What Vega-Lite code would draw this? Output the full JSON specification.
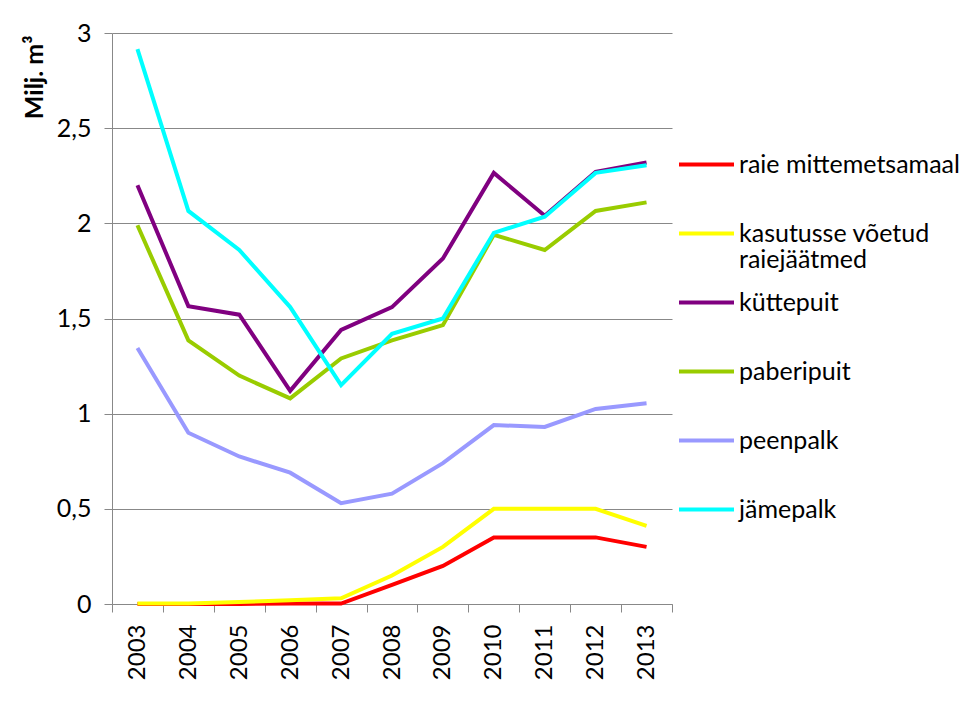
{
  "$schema": "https://vega.github.io/schema/vega-lite/v6.json",
  "width": 560,
  "height": 571,
  "autosize": {"type": "none"},
  "padding": {"left": 112, "top": 33, "right": 305, "bottom": 114},
  "background": "white",
  "config": {"font": "Lato", "view": {"stroke": null}},
  "data": {
    "values": [
      {"year": "2003", "series": "raie mittemetsamaal", "value": 0},
      {"year": "2004", "series": "raie mittemetsamaal", "value": 0},
      {"year": "2005", "series": "raie mittemetsamaal", "value": 0},
      {"year": "2006", "series": "raie mittemetsamaal", "value": 0.003},
      {"year": "2007", "series": "raie mittemetsamaal", "value": 0.002},
      {"year": "2008", "series": "raie mittemetsamaal", "value": 0.1},
      {"year": "2009", "series": "raie mittemetsamaal", "value": 0.2},
      {"year": "2010", "series": "raie mittemetsamaal", "value": 0.35},
      {"year": "2011", "series": "raie mittemetsamaal", "value": 0.35},
      {"year": "2012", "series": "raie mittemetsamaal", "value": 0.35},
      {"year": "2013", "series": "raie mittemetsamaal", "value": 0.3},
      {"year": "2003", "series": "kasutusse võetud raiejäätmed", "value": 0.003},
      {"year": "2004", "series": "kasutusse võetud raiejäätmed", "value": 0.003},
      {"year": "2005", "series": "kasutusse võetud raiejäätmed", "value": 0.01},
      {"year": "2006", "series": "kasutusse võetud raiejäätmed", "value": 0.02},
      {"year": "2007", "series": "kasutusse võetud raiejäätmed", "value": 0.03},
      {"year": "2008", "series": "kasutusse võetud raiejäätmed", "value": 0.15},
      {"year": "2009", "series": "kasutusse võetud raiejäätmed", "value": 0.3},
      {"year": "2010", "series": "kasutusse võetud raiejäätmed", "value": 0.5},
      {"year": "2011", "series": "kasutusse võetud raiejäätmed", "value": 0.5},
      {"year": "2012", "series": "kasutusse võetud raiejäätmed", "value": 0.5},
      {"year": "2013", "series": "kasutusse võetud raiejäätmed", "value": 0.41},
      {"year": "2003", "series": "küttepuit", "value": 2.2},
      {"year": "2004", "series": "küttepuit", "value": 1.565},
      {"year": "2005", "series": "küttepuit", "value": 1.52},
      {"year": "2006", "series": "küttepuit", "value": 1.12},
      {"year": "2007", "series": "küttepuit", "value": 1.44},
      {"year": "2008", "series": "küttepuit", "value": 1.56},
      {"year": "2009", "series": "küttepuit", "value": 1.815},
      {"year": "2010", "series": "küttepuit", "value": 2.265},
      {"year": "2011", "series": "küttepuit", "value": 2.04},
      {"year": "2012", "series": "küttepuit", "value": 2.27},
      {"year": "2013", "series": "küttepuit", "value": 2.32},
      {"year": "2003", "series": "paberipuit", "value": 1.99},
      {"year": "2004", "series": "paberipuit", "value": 1.385},
      {"year": "2005", "series": "paberipuit", "value": 1.2},
      {"year": "2006", "series": "paberipuit", "value": 1.08},
      {"year": "2007", "series": "paberipuit", "value": 1.29},
      {"year": "2008", "series": "paberipuit", "value": 1.385},
      {"year": "2009", "series": "paberipuit", "value": 1.465},
      {"year": "2010", "series": "paberipuit", "value": 1.94},
      {"year": "2011", "series": "paberipuit", "value": 1.86},
      {"year": "2012", "series": "paberipuit", "value": 2.065},
      {"year": "2013", "series": "paberipuit", "value": 2.11},
      {"year": "2003", "series": "peenpalk", "value": 1.345},
      {"year": "2004", "series": "peenpalk", "value": 0.9},
      {"year": "2005", "series": "peenpalk", "value": 0.775},
      {"year": "2006", "series": "peenpalk", "value": 0.69},
      {"year": "2007", "series": "peenpalk", "value": 0.53},
      {"year": "2008", "series": "peenpalk", "value": 0.58},
      {"year": "2009", "series": "peenpalk", "value": 0.74},
      {"year": "2010", "series": "peenpalk", "value": 0.94},
      {"year": "2011", "series": "peenpalk", "value": 0.93},
      {"year": "2012", "series": "peenpalk", "value": 1.025},
      {"year": "2013", "series": "peenpalk", "value": 1.055},
      {"year": "2003", "series": "jämepalk", "value": 2.915},
      {"year": "2004", "series": "jämepalk", "value": 2.065},
      {"year": "2005", "series": "jämepalk", "value": 1.86},
      {"year": "2006", "series": "jämepalk", "value": 1.56},
      {"year": "2007", "series": "jämepalk", "value": 1.15},
      {"year": "2008", "series": "jämepalk", "value": 1.42},
      {"year": "2009", "series": "jämepalk", "value": 1.5},
      {"year": "2010", "series": "jämepalk", "value": 1.95},
      {"year": "2011", "series": "jämepalk", "value": 2.035},
      {"year": "2012", "series": "jämepalk", "value": 2.265},
      {"year": "2013", "series": "jämepalk", "value": 2.305}
    ]
  },
  "mark": {"type": "line", "strokeWidth": 4, "strokeJoin": "miter"},
  "encoding": {
    "x": {
      "field": "year",
      "type": "ordinal",
      "bandPosition": 0.5,
      "scale": {"type": "band", "paddingInner": 0, "paddingOuter": 0},
      "axis": {
        "title": null,
        "labelAngle": -90,
        "labelAlign": "right",
        "labelBaseline": "middle",
        "labelFontSize": 24,
        "labelColor": "black",
        "labelPadding": 12,
        "tickSize": 8,
        "tickColor": "#888888",
        "domainColor": "#888888",
        "grid": false,
        "tickBand": "extent"
      }
    },
    "y": {
      "field": "value",
      "type": "quantitative",
      "scale": {"domain": [0, 3], "nice": false},
      "axis": {
        "values": [0, 0.5, 1, 1.5, 2, 2.5, 3],
        "labelExpr": "replace(format(datum.value, '~g'), '.', ',')",
        "labelFontSize": 25,
        "labelColor": "black",
        "labelPadding": 13,
        "tickSize": 8,
        "tickColor": "#888888",
        "domainColor": "#888888",
        "gridColor": "#888888",
        "title": "Milj. m³",
        "titleFontSize": 25,
        "titleFontWeight": "bold",
        "titleColor": "black",
        "titleAngle": -90,
        "titleAlign": "right",
        "titleBaseline": "alphabetic",
        "titleX": -70,
        "titleY": 2
      }
    },
    "color": {
      "field": "series",
      "type": "nominal",
      "scale": {
        "domain": ["raie mittemetsamaal", "kasutusse võetud raiejäätmed", "küttepuit", "paberipuit", "peenpalk", "jämepalk"],
        "range": ["#FF0000", "#FFFF00", "#800080", "#99CC00", "#9999FF", "#00FFFF"]
      },
      "legend": {
        "orient": "none",
        "legendX": 565,
        "legendY": 102,
        "title": null,
        "symbolType": "stroke",
        "symbolSize": 3025,
        "symbolStrokeWidth": 4,
        "labelFontSize": 25,
        "labelColor": "black",
        "labelOffset": 3,
        "labelLimit": 400,
        "rowPadding": 0,
        "gridAlign": "all",
        "labelExpr": "datum.label == 'kasutusse võetud raiejäätmed' ? ['kasutusse võetud', 'raiejäätmed'] : datum.label",
        "encode": {"labels": {"update": {"lineHeight": {"value": 26}}}}
      }
    }
  }
}
